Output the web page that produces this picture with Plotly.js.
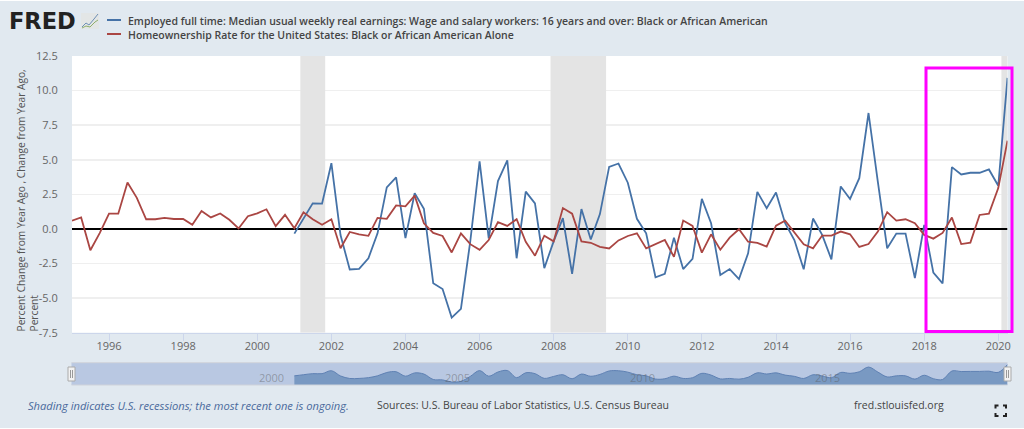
<!DOCTYPE html>
<html>
<head>
<meta charset="utf-8">
<script src="https://cdn.plot.ly/plotly-3.0.1.min.js"></script>
<style>
  html, body { margin: 0; padding: 0; background: #fff; overflow: hidden; }
  #myDiv { position: absolute; left: 0; top: 1px; width: 1024px; height: 427px; }
</style>
</head>
<body>
<div id="myDiv"></div>
<script>
const earningsName = "Employed full time: Median usual weekly real earnings: Wage and salary workers: 16 years and over: Black or African American";
const homeName = "Homeownership Rate for the United States: Black or African American Alone";

// quarterly, 2001 Q1 to 2020 Q2
const earnings = [
  -0.34, 0.78, 1.85, 1.83,
  4.75, -0.44, -2.93, -2.88,
  -2.12, -0.32, 3.0, 3.73,
  -0.66, 2.58, 1.46, -3.93,
  -4.34, -6.41, -5.78, -0.9,
  4.88, -0.68, 3.46, 4.95,
  -2.12, 2.7, 1.85, -2.83,
  -0.9, 0.78, -3.24, 1.44,
  -0.76, 1.07, 4.49, 4.73,
  3.34, 0.73, -0.32, -3.49,
  -3.24, -0.63, -2.9, -2.17,
  2.17, 0.41, -3.33, -2.9,
  -3.62, -1.76, 2.68, 1.5,
  2.63, 0.41, -0.8, -2.92,
  0.75, -0.43, -2.2, 3.07,
  2.17, 3.67, 8.38, 3.4,
  -1.4, -0.34, -0.34, -3.55,
  0.29, -3.16, -3.94, 4.47,
  3.94, 4.06, 4.06, 4.3,
  3.12, 10.92
];

// quarterly, 1995 Q1 to 2020 Q2
const homeownership = [
  0.6, 0.83, -1.54, -0.3,
  1.1, 1.1, 3.35, 2.25,
  0.7, 0.7, 0.8, 0.72,
  0.72, 0.3, 1.3, 0.83,
  1.12, 0.66, 0.03, 0.92,
  1.12, 1.42, 0.2, 1.02,
  0.05, 1.2, 0.7, 0.3,
  0.7, -1.4, -0.22, -0.4,
  -0.5, 0.8, 0.73, 1.7,
  1.63, 2.41, 0.41, -0.29,
  -0.51, -1.7, -0.32, -1.1,
  -1.51, -0.8, 0.49, 0.22,
  0.7, -0.93, -1.93, -0.49,
  -0.9, 1.51, 1.1, -0.9,
  -1.0, -1.29, -1.41, -0.83,
  -0.51, -0.32, -1.41, -1.12,
  -0.8, -2.02, 0.61, 0.22,
  -1.71, -0.39, -1.5, -0.63,
  -0.02, -0.92, -1.01, -1.28,
  0.24, 0.6, -0.24, -1.11,
  -1.4, -0.48, -0.48, -0.19,
  -0.39, -1.3, -1.09, -0.19,
  1.21, 0.6, 0.7, 0.41,
  -0.43, -0.7, -0.29, 0.82,
  -1.09, -0.99, 1.01, 1.11,
  2.95, 6.38
];

const recessionStarts = ["2001-03-01", "2007-12-01", "2020-02-01"];
const recessionEnds = ["2001-11-01", "2009-06-01", "2020-04-01"];
const xRange = ["1995-01-01", "2020-04-01"];
const yRange = [-7.5, 12.5];
const yTicks = [12.5, 10, 7.5, 5, 2.5, 0, -2.5, -5, -7.5];
const yTickLabels = ["12.5", "10.0", "7.5", "5.0", "2.5", "0.0", "-2.5", "-5.0", "-7.5"];
const navigatorYears = ["2000", "2005", "2010", "2015"];

const BLUE = "#4572a7";
const RED = "#aa4643";
const FONT = '"Open Sans", sans-serif';
const navFloor = -9.4; // value sitting on the bottom edge of the navigator

function gen_quarters(year, n) {
  let out = [];
  for (let i = 0; i < n; i++) {
    const y = year + Math.floor(i / 4);
    const m = ["01", "04", "07", "10"][i % 4];
    out.push(`${y}-${m}-01`);
  }
  return out;
}

// page pixels to paper coordinates
function px(x) { return x / 1024; }
function py(y) { return 1 - (y - 1) / 427; }

function paper_rect(x0, y0, x1, y1, fill, line, layer) {
  return {
    type: "rect", xref: "paper", yref: "paper", layer: layer || "above",
    x0: px(x0), x1: px(x1), y0: py(y0), y1: py(y1),
    fillcolor: fill, line: line || { width: 0 },
  };
}

function paper_line(x0, y0, x1, y1, color, width) {
  return {
    type: "line", xref: "paper", yref: "paper",
    x0: px(x0), x1: px(x1), y0: py(y0), y1: py(y1),
    line: { color: color, width: width },
  };
}

function paper_text(x, y, text, size, color, extra) {
  return Object.assign({
    xref: "paper", yref: "paper", x: px(x), y: py(y),
    xanchor: "left", yanchor: "middle", showarrow: false,
    text: text, borderpad: 0,
    font: { family: FONT, size: size, color: color },
  }, extra || {});
}

function path_from(points) {
  return points.map((p, i) => `${i ? "L" : "M"}${px(p[0])},${py(p[1])}`).join(" ");
}

function gen_shapes() {
  let shapes = [];
  // navigator band
  shapes.push(paper_rect(71.5, 362.7, 1007.5, 385, "#b9c8e2", null, "below"));
  shapes.push(paper_line(71.5, 362.7, 1007.5, 362.7, "#cfd3da", 1));
  shapes.push(paper_line(71.5, 385, 1007.5, 385, "#cfd3da", 1));
  // legend samples
  shapes.push(paper_line(107, 20, 121, 20, BLUE, 2));
  shapes.push(paper_line(107, 34, 121, 34, RED, 2));
  // logo chart icon
  shapes.push(paper_rect(81, 13, 99, 29, "#e3e6e6"));
  shapes.push({ type: "path", xref: "paper", yref: "paper",
    path: path_from([[82, 27], [86, 23], [89, 25], [94, 19], [98, 14]]),
    line: { color: "#6d8fb5", width: 1 } });
  shapes.push({ type: "path", xref: "paper", yref: "paper",
    path: path_from([[82, 28], [86, 26], [90, 27], [95, 22], [98, 20]]),
    line: { color: "#8fae6a", width: 1 } });
  // navigator handles
  [71.5, 1007.5].forEach((x) => {
    shapes.push(paper_rect(x - 3.5, 367, x + 3.5, 381, "#f2f2f2", { color: "#aaa", width: 1 }));
    shapes.push(paper_line(x - 1, 370, x - 1, 378, "#999", 1));
    shapes.push(paper_line(x + 1, 370, x + 1, 378, "#999", 1));
  });
  // fullscreen button
  [[995.5, 405.5, 1, 1], [1006, 405.5, -1, 1], [995.5, 416, 1, -1], [1006, 416, -1, -1]].forEach((c) => {
    shapes.push({ type: "path", xref: "paper", yref: "paper",
      path: path_from([[c[0], c[1] + 3 * c[3]], [c[0], c[1]], [c[0] + 3 * c[2], c[1]]]),
      line: { color: "#222", width: 2 } });
  });
  // magenta highlight box
  shapes.push(paper_rect(926, 68, 1012, 331.5, "rgba(0,0,0,0)", { color: "#ff00ff", width: 3 }));
  return shapes;
}

function gen_annotations() {
  const semi = { family: FONT, size: 10.5, color: "#444", weight: 600 };
  let notes = [
    paper_text(8, 21.5, "FRED", 22.5, "#222", { font: { family: '"DejaVu Sans", sans-serif', size: 22.5, color: "#222", weight: 900 } }),
    paper_text(126.7, 21, earningsName, 10.5, "#444", { font: semi }),
    paper_text(126.7, 35, homeName, 10.5, "#444", { font: semi }),
    paper_text(27, 405, "<i>Shading indicates U.S. recessions; the most recent one is ongoing.</i>", 11.15, "#4a6a9c"),
    paper_text(376, 405, "Sources: U.S. Bureau of Labor Statistics, U.S. Census Bureau", 10.5, "#444"),
    paper_text(853, 405, "fred.stlouisfed.org", 10.5, "#444"),
    paper_text(26.5, 333, "Percent Change from Year Ago , Change from Year Ago,<br>Percent", 10.2, "#555", {
      textangle: -90, xanchor: "center", yanchor: "bottom", align: "left",
    }),
  ];
  navigatorYears.forEach((yr) => {
    notes.push({
      xref: "x2", yref: "paper", x: `${yr}-01-01`, y: py(377.5),
      xanchor: "left", yanchor: "middle", showarrow: false, text: yr,
      font: { family: FONT, size: 11, color: "rgba(90,90,90,0.45)" },
    });
  });
  return notes;
}

// recession bands as one filled trace, so they cover the grid but stay under the lines
function gen_recession_trace() {
  let x = [];
  let y = [];
  recessionStarts.forEach((s, i) => {
    x.push(s, s, recessionEnds[i], recessionEnds[i], null);
    y.push(yRange[0], yRange[1], yRange[1], yRange[0], null);
  });
  return {
    x: x, y: y, type: "scatter", mode: "lines", fill: "toself", name: "recessions",
    fillcolor: "#e4e4e4", line: { width: 0 }, hoverinfo: "skip",
  };
}

const homeDates = gen_quarters(1995, homeownership.length);
const earningsDates = gen_quarters(2001, earnings.length);

const data = [
  gen_recession_trace(),
  {
    x: xRange, y: [0, 0], type: "scatter", mode: "lines", name: "zero",
    line: { color: "#000", width: 2 }, hoverinfo: "skip",
  },
  {
    x: earningsDates, y: earnings, name: earningsName,
    type: "scatter", mode: "lines", line: { color: BLUE, width: 1.8 },
  },
  {
    x: homeDates, y: homeownership, name: homeName,
    type: "scatter", mode: "lines", line: { color: RED, width: 1.8 },
  },
  {
    x: earningsDates, y: earnings.map((v) => v - navFloor), xaxis: "x2", yaxis: "y2",
    type: "scatter", mode: "lines", fill: "tozeroy", name: "navigator",
    fillcolor: "rgba(69,114,167,0.55)",
    line: { color: "#5f81b3", width: 1, shape: "spline", smoothing: 1 },
  },
];

const layout = {
  width: 1024,
  height: 427,
  margin: { l: 0, r: 0, t: 0, b: 0, pad: 0 },
  paper_bgcolor: "#e1e9f0",
  plot_bgcolor: "#ffffff",
  showlegend: false,
  font: { family: FONT, size: 11, color: "#666" },
  xaxis: {
    type: "date",
    domain: [px(72), px(1007.5)],
    range: xRange,
    tick0: "1996-01-01",
    dtick: "M24",
    tickformat: "%Y",
    ticks: "outside",
    ticklen: 7,
    tickwidth: 1,
    tickcolor: "#ccd6eb",
    ticklabelstandoff: -4,
    showgrid: false,
    showline: true,
    linecolor: "#ccd6eb",
    linewidth: 1,
    zeroline: false,
    anchor: "y",
    tickfont: { family: FONT, size: 11, color: "#666" },
  },
  yaxis: {
    domain: [py(332.7), py(56)],
    range: yRange,
    tickmode: "array",
    tickvals: yTicks,
    ticktext: yTickLabels,
    ticks: "outside",
    ticklen: 11,
    tickcolor: "rgba(0,0,0,0)",
    gridcolor: "#efefef",
    gridwidth: 1.5,
    zeroline: false,
    showline: false,
    anchor: "x",
    tickfont: { family: FONT, size: 11, color: "#666" },
  },
  xaxis2: {
    type: "date",
    domain: [px(72), px(1007.5)],
    range: xRange,
    showticklabels: false,
    showgrid: false,
    zeroline: false,
    anchor: "y2",
  },
  yaxis2: {
    domain: [py(385), py(362.7)],
    range: [0, 22.1],
    showticklabels: false,
    showgrid: false,
    zeroline: false,
    anchor: "x2",
  },
  shapes: gen_shapes(),
  annotations: gen_annotations(),
};

Plotly.newPlot("myDiv", data, layout, { displayModeBar: false, staticPlot: true });
</script>
</body>
</html>
